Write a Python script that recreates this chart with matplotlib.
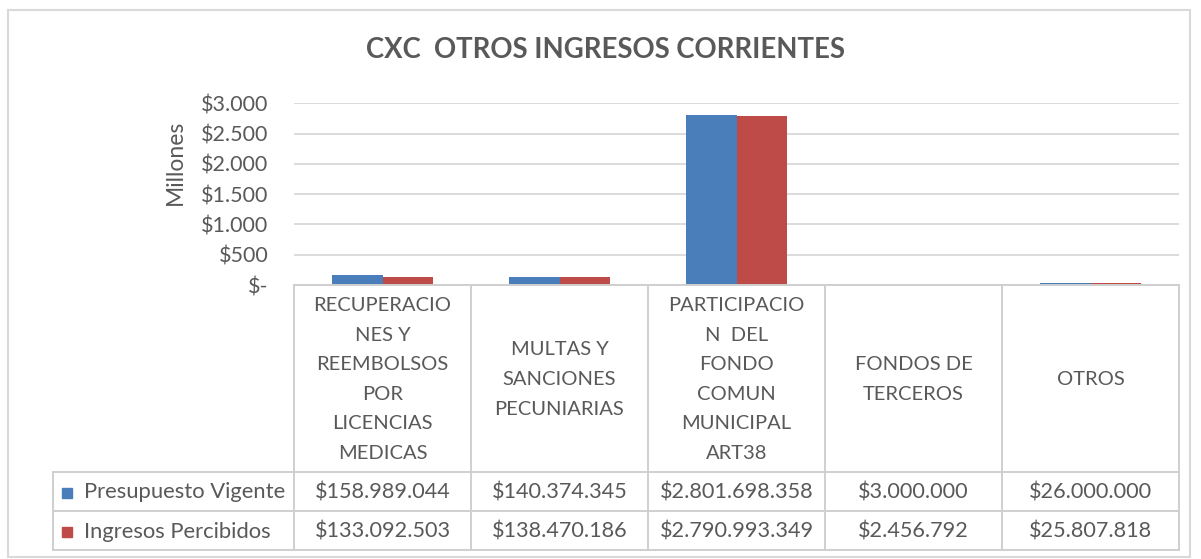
import matplotlib
matplotlib.use("Agg")
import matplotlib.pyplot as plt
from matplotlib.lines import Line2D
from matplotlib.patches import Rectangle
import numpy as np

# ---- data ----
categories = [
    "RECUPERACIO\nNES Y\nREEMBOLSOS\nPOR\nLICENCIAS\nMEDICAS",
    "MULTAS Y\nSANCIONES\nPECUNIARIAS",
    "PARTICIPACIO\nN  DEL\nFONDO\nCOMUN\nMUNICIPAL\nART38",
    "FONDOS DE\nTERCEROS",
    "OTROS",
]
series_names = ["Presupuesto Vigente", "Ingresos Percibidos"]
presupuesto = [158989044, 140374345, 2801698358, 3000000, 26000000]
percibidos = [133092503, 138470186, 2790993349, 2456792, 25807818]
yticks = [0, 500, 1000, 1500, 2000, 2500, 3000]
ytick_labels = ["$-", "$500", "$1.000", "$1.500", "$2.000", "$2.500", "$3.000"]
title = "CXC  OTROS INGRESOS CORRIENTES"
ylabel = "Millones"

# ---- style ----
W, H = 1201, 559
FONT = "Lato"
TXT = "#595959"
GRID = "#D9D9D9"
BORDER = "#CFCFCF"
colors = ["#4A7EBB", "#BE4B48"]

fig = plt.figure(figsize=(W / 100, H / 100), dpi=100)
fig.patch.set_facecolor("white")

def fx(x):
    return x / W

def fy(y):
    return 1 - y / H

# plot area
left, right, top, bottom = 294, 1179, 103.5, 285
ax = fig.add_axes([fx(left), fy(bottom), (right - left) / W, (bottom - top) / H])
n = len(categories)
x = np.arange(n)
bw = 0.283
series = [presupuesto, percibidos]
for k, (vals, c) in enumerate(zip(series, colors)):
    v = np.array(vals) / 1e6
    ax.bar(x + (k - 0.5) * bw, v, width=bw, color=c, zorder=3, linewidth=0)

ax.set_xlim(-0.5, n - 0.5)
ax.set_ylim(0, 3000)
ax.set_yticks(yticks)
ax.set_yticklabels(ytick_labels, fontfamily=FONT, fontsize=15.5, color=TXT)
ax.tick_params(axis="y", length=0, pad=18.5)
ax.set_xticks([])
for s in ax.spines.values():
    s.set_visible(False)
ax.grid(axis="y", color=GRID, linewidth=1.3, zorder=0)
ax.set_axisbelow(True)
ax.patch.set_alpha(0)

fig.text(fx(175), fy(162), ylabel, rotation=90, ha="center", va="center",
         fontfamily=FONT, fontsize=16.5, color=TXT)
fig.text(fx(606), fy(50), title, ha="center", va="center",
         fontfamily=FONT, fontsize=19.8, fontweight="bold", color=TXT)

# ---- data table ----
fig.canvas.draw()
to_px = ax.transData
def col_px(xd):
    X, _ = to_px.transform((xd, 0))
    return X

bounds = [col_px(i - 0.5) for i in range(n + 1)]
centers = [col_px(i) for i in range(n)]

row_top, row1, row2, row3 = 285, 472, 511, 550
leg_left = 53

def hline(y, x0, x1):
    fig.add_artist(Line2D([fx(x0), fx(x1)], [fy(y), fy(y)], color=BORDER, lw=1.4, zorder=5))

def vline(xp, y0, y1):
    fig.add_artist(Line2D([fx(xp), fx(xp)], [fy(y0), fy(y1)], color=BORDER, lw=1.4, zorder=5))

hline(row_top, bounds[0], bounds[-1])
for y in (row1, row2, row3):
    hline(y, leg_left, bounds[-1])
for b in bounds:
    vline(b, row_top, row3)
vline(leg_left, row1, row3)

# headers
for c, label in zip(centers, categories):
    fig.text(fx(c), fy((row_top + row1) / 2 + 1), label, ha="center", va="center",
             fontfamily=FONT, fontsize=14.5, color=TXT, linespacing=1.9)

def fmt(v):
    return "$" + f"{v:,}".replace(",", ".")

row_centers = [(row1 + row2) / 2 + 1, (row2 + row3) / 2 + 1]
for vals, name, c, yc in zip(series, series_names, colors, row_centers):
    fig.add_artist(Rectangle((fx(62), fy(yc + 5)), 10 / W, 10 / H, color=c,
                             transform=fig.transFigure))
    fig.text(fx(84), fy(yc), name, ha="left", va="center",
             fontfamily=FONT, fontsize=15.8, color=TXT)
    for cx, v in zip(centers, vals):
        fig.text(fx(cx), fy(yc), fmt(v), ha="center", va="center",
                 fontfamily=FONT, fontsize=15.6, color=TXT)

# outer chart border
fig.add_artist(Rectangle((fx(8), fy(557)), (1190 - 8) / W, (557 - 10) / H,
                         fill=False, edgecolor="#D9D9D9", lw=1.5,
                         transform=fig.transFigure))

fig.savefig("out.png", dpi=100, facecolor="white")
